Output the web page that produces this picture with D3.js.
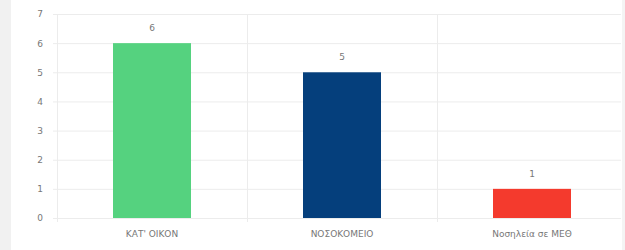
<!DOCTYPE html>
<html><head><meta charset="utf-8">
<script src="https://cdn.jsdelivr.net/npm/d3@7"></script>
<style>body{margin:0;background:#fff;}svg{display:block;font-family:"DejaVu Sans",sans-serif;}</style>
</head><body>
<script>
const categories = ["ΚΑΤ' ΟΙΚΟΝ", "ΝΟΣΟΚΟΜΕΙΟ", "Νοσηλεία σε ΜΕΘ"];
const values = [6, 5, 1];
const colors = ["#55d27f", "#053f7c", "#f43a2d"];
const yTicks = [0, 1, 2, 3, 4, 5, 6, 7];

(function () {
const W = 625, H = 250;
const svg = d3.select("body").append("svg").attr("width", W).attr("height", H);
svg.append("rect").attr("x", 0).attr("y", 0).attr("width", 11).attr("height", H).attr("fill", "#f1f1f1");
svg.append("rect").attr("x", 622).attr("y", 0).attr("width", 3).attr("height", H).attr("fill", "#f4f4f4");

const mL = 57, mR = 627, gridR = 621, mT = 14, mB = 218;
const x = d3.scaleBand().domain(categories).range([mL, mR]).paddingInner(0).paddingOuter(0);
const y = d3.scaleLinear().domain([0, 7]).range([mB, mT]);

// horizontal grid
svg.append("g").selectAll("line").data(yTicks).join("line")
  .attr("x1", mL - 4).attr("x2", gridR)
  .attr("y1", d => y(d) + 0.5).attr("y2", d => y(d) + 0.5)
  .attr("stroke", "#ececec").attr("stroke-width", 1);
// vertical grid
const vx = categories.map(c => x(c));
svg.append("g").selectAll("line").data(vx).join("line")
  .attr("x1", d => Math.round(d) + 0.5).attr("x2", d => Math.round(d) + 0.5)
  .attr("y1", mT).attr("y2", mB + 4)
  .attr("stroke", "#ececec").attr("stroke-width", 1);

// y axis labels
const yAxis = d3.axisLeft(y).tickValues(yTicks).tickFormat(d3.format("d")).tickSize(0).tickPadding(0);
const ga = svg.append("g").attr("transform", `translate(${mL - 14},0)`).call(yAxis);
ga.select(".domain").remove();
ga.selectAll("text").attr("fill", "#777").attr("font-size", 9).attr("font-family", "DejaVu Sans, sans-serif");

// bars
const bw = 78;
svg.append("g").selectAll("rect").data(values).join("rect")
  .attr("x", (d, i) => x(categories[i]) + x.bandwidth() / 2 - bw / 2)
  .attr("width", bw)
  .attr("y", d => y(d))
  .attr("height", d => y(0) - y(d))
  .attr("fill", (d, i) => colors[i]);

// value labels
svg.append("g").selectAll("text").data(values).join("text")
  .attr("x", (d, i) => x(categories[i]) + x.bandwidth() / 2)
  .attr("y", d => y(d) - 12)
  .attr("text-anchor", "middle")
  .attr("font-size", 9).attr("fill", "#777")
  .text(d => d);

// x axis labels
const xAxis = d3.axisBottom(x).tickSize(0).tickPadding(0);
const gx = svg.append("g").attr("transform", `translate(0,${mB + 13})`).call(xAxis);
gx.select(".domain").remove();
gx.selectAll("text").attr("fill", "#777").attr("font-size", 9).attr("font-family", "DejaVu Sans, sans-serif");
})();
</script>
</body></html>
